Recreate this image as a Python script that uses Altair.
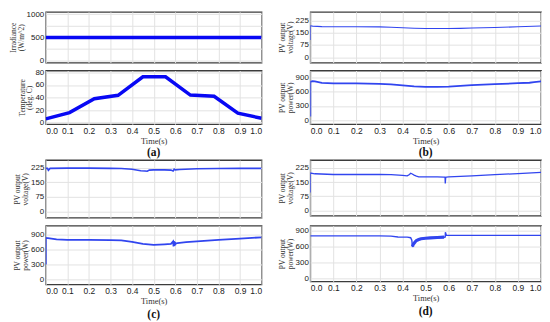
import altair as alt
import pandas as pd

# ---------------- data ----------------
time_ticks = [0.0, 0.1, 0.2, 0.3, 0.4, 0.5, 0.6, 0.7, 0.8, 0.9, 1.0]

irr_ticks = [0, 250, 500, 750, 1000]
temp_ticks = [0, 20, 40, 60, 80]
volt_ticks = [0, 75, 150, 225]
power_ticks = [0, 300, 600, 900]

panel_labels = ["(a)", "(b)", "(c)", "(d)"]

# (a) irradiance and temperature
irr_t = [0.0, 1.0]
irr_v = [500, 500]
temp_t = [0.0, 0.11, 0.225, 0.335, 0.45, 0.555, 0.67, 0.78, 0.89, 1.0]
temp_v = [6, 16, 38, 43.5, 73, 73, 44, 42, 15, 7]

# (b)
bv_t = [0.0, 0.0, 0.01, 0.05, 0.1, 0.2, 0.3, 0.35, 0.4, 0.45, 0.5, 0.55, 0.6, 0.65, 0.7, 0.8, 0.9, 1.0]
bv_v = [105, 192, 190, 187, 186, 186, 185, 183, 180, 177, 175, 175, 175, 176, 178, 181, 186, 191]
bp_t = [0.0, 0.0, 0.01, 0.02, 0.05, 0.1, 0.2, 0.3, 0.35, 0.4, 0.45, 0.5, 0.55, 0.6, 0.65, 0.7,
        0.8, 0.9, 0.95, 0.97, 1.0]
bp_v = [80, 800, 815, 812, 780, 770, 768, 760, 748, 728, 705, 695, 695, 703, 718, 732,
        752, 772, 782, 795, 810]

# (c)
cv_t = [0.0, 0.008, 0.012, 0.02, 0.1, 0.2, 0.3, 0.35, 0.4, 0.44, 0.46, 0.47, 0.48, 0.5, 0.55,
        0.58, 0.59, 0.595, 0.6, 0.62, 0.7, 0.8, 0.9, 1.0]
cv_v = [222, 222, 212, 222, 223, 223, 222, 221, 217, 210, 208, 207, 213, 214, 214,
        213, 208, 218, 214, 216, 220, 221, 222, 222]
cp_t = [0.0, 0.0, 0.01, 0.05, 0.1, 0.2, 0.3, 0.35, 0.4, 0.45, 0.5, 0.55, 0.58, 0.59, 0.592,
        0.594, 0.596, 0.598, 0.6, 0.602, 0.61, 0.65, 0.7, 0.8, 0.9, 1.0]
cp_v = [300, 830, 825, 800, 792, 790, 788, 780, 752, 712, 693, 703, 710, 760, 660,
        770, 670, 750, 690, 720, 725, 745, 762, 790, 818, 843]

# (d)
dv_t = [0.0, 0.0, 0.02, 0.1, 0.2, 0.3, 0.35, 0.4, 0.42, 0.43, 0.435, 0.44, 0.45, 0.46, 0.47,
        0.5, 0.55, 0.58, 0.584, 0.585, 0.587, 0.59, 0.6, 0.7, 0.8, 0.9, 1.0]
dv_v = [95, 198, 194, 190, 190, 190, 189, 185, 183, 190, 197, 194, 187, 182, 178,
        177, 177, 176, 176, 142, 174, 176, 177, 183, 189, 195, 201]
dp_t = [0.0, 0.1, 0.2, 0.3, 0.35, 0.38, 0.42, 0.435, 0.44, 0.443, 0.446, 0.45, 0.455, 0.46,
        0.47, 0.48, 0.5, 0.52, 0.55, 0.58, 0.585, 0.5855, 0.59, 0.6, 0.7, 0.8, 0.9, 1.0]
dp_v = [800, 800, 800, 800, 795, 780, 776, 765, 720, 590, 640, 660, 690, 710,
        730, 745, 755, 762, 770, 775, 780, 870, 810, 810, 810, 810, 810, 810]
# oscillating (thick) band in (d) power
dpb_t = [0.443, 0.446, 0.45, 0.455, 0.46, 0.47, 0.48, 0.5, 0.52, 0.55, 0.58]
dpb_v = [600, 640, 660, 690, 710, 730, 745, 755, 762, 770, 775]

# ---------------- styling ----------------
SANS = "Liberation Sans"
SERIF = "Liberation Serif"
BLUE_A = "#0808f4"
BLUE = "#3145ef"
GRID = "#e2e2e2"

W1, W2 = 217, 232


def make_xaxis(bottom):
    if bottom:
        return alt.Axis(values=time_ticks, format=".1f", grid=True, gridColor=GRID,
                        domain=False, ticks=False, labelFont=SANS, labelFontSize=8.5,
                        labelColor="#222", labelPadding=2, title="Time(s)",
                        titleFont=SERIF, titleFontSize=8.5, titleFontWeight="normal",
                        titleColor="#333", titlePadding=2)
    return alt.Axis(values=time_ticks, labels=False, grid=True, gridColor=GRID,
                    domain=False, ticks=False, title=None)


def make_yaxis(ticks, title, label_expr=None):
    kw = dict(values=ticks, format="d", grid=True, gridColor=GRID, domain=False, ticks=False,
              labelFont=SANS, labelFontSize=8, labelColor="#222", labelPadding=2,
              title=title, titleFont=SERIF, titleFontSize=7.5, titleFontWeight="normal",
              titleColor="#333", titlePadding=1, titleLineHeight=8)
    if label_expr:
        kw["labelExpr"] = label_expr
    return alt.Axis(**kw)


def subplot(series, ydom, yticks, ytitle, w, h, bottom, label=None, label_expr=None):
    xaxis = make_xaxis(bottom)
    yaxis = make_yaxis(yticks, ytitle, label_expr)
    layers = []
    for t, v, col, sw in series:
        df = pd.DataFrame({"t": t, "v": v, "i": list(range(len(t)))})
        layers.append(
            alt.Chart(df).mark_line(color=col, strokeWidth=sw, clip=True).encode(
                x=alt.X("t:Q", scale=alt.Scale(domain=[0, 1], nice=False, zero=False), axis=xaxis),
                y=alt.Y("v:Q", scale=alt.Scale(domain=ydom, nice=False, zero=False), axis=yaxis),
                order=alt.Order("i:Q"),
            )
        )
    if label is not None:
        ldf = pd.DataFrame({"lab": [label]})
        layers.append(
            alt.Chart(ldf).mark_text(font=SERIF, fontSize=11.5, fontWeight="bold",
                                     color="#111", baseline="middle").encode(
                x=alt.value(w / 2), y=alt.value(h + 31), text="lab:N")
        )
    return alt.layer(*layers).properties(width=w, height=h)


def label_cell(label, w, h):
    ldf = pd.DataFrame({"lab": [label]})
    return alt.Chart(ldf).mark_text(font=SERIF, fontSize=11.5, fontWeight="bold",
                                    color="#111", baseline="middle").encode(
        x=alt.value(w / 2), y=alt.value(h + 1), text="lab:N"
    ).properties(width=w, height=h, view=alt.ViewBackground(stroke="transparent"))


a_top = subplot([(irr_t, irr_v, BLUE_A, 3.5)], [-40, 1050], irr_ticks,
                ["Irradiance", "(W/m^2)"], W1, 51, False,
                label_expr="datum.value % 500 == 0 ? datum.label : ''")
a_bot = subplot([(temp_t, temp_v, BLUE_A, 3.5)], [-2.5, 83], temp_ticks,
                ["Temperature", "(deg. C)"], W1, 54, True)

b_top = subplot([(bv_t, bv_v, BLUE, 1.1)], [-33, 277], volt_ticks,
                ["PV output", "voltage(V)"], W2, 51, False)
b_bot = subplot([(bp_t, bp_v, BLUE, 1.8)], [-82, 1036], power_ticks,
                ["PV output", "power(W)"], W2, 54, True)

c_top = subplot([(cv_t, cv_v, BLUE, 1.6)], [-33, 265], volt_ticks,
                ["PV output", "voltage(V)"], W1, 58, False)
c_bot = subplot([(cp_t, cp_v, BLUE, 1.8)], [-98, 1076], power_ticks,
                ["PV output", "power(W)"], W1, 59, True, label=panel_labels[2])

d_top = subplot([(dv_t, dv_v, BLUE, 1.3)], [-29, 267], volt_ticks,
                ["PV output", "voltage(V)"], W2, 56, False)
d_bot = subplot([(dp_t, dp_v, BLUE, 1.4), (dpb_t, dpb_v, BLUE, 3.2)], [-62, 994], power_ticks,
                ["PV output", "power(W)"], W2, 56, True, label=panel_labels[3])

lab_a = label_cell(panel_labels[0], W1, 20)
lab_b = label_cell(panel_labels[1], W2, 20)

chart = alt.concat(
    a_top, b_top, a_bot, b_bot, lab_a, lab_b, c_top, d_top, c_bot, d_bot,
    columns=2, spacing={"row": 8, "column": 49}, bounds="flush", align="each"
).properties(padding=0).configure_view(stroke="#3c3c3c", strokeWidth=1.3)

chart.save("out.html", embed_options={"renderer": "svg", "actions": False})
